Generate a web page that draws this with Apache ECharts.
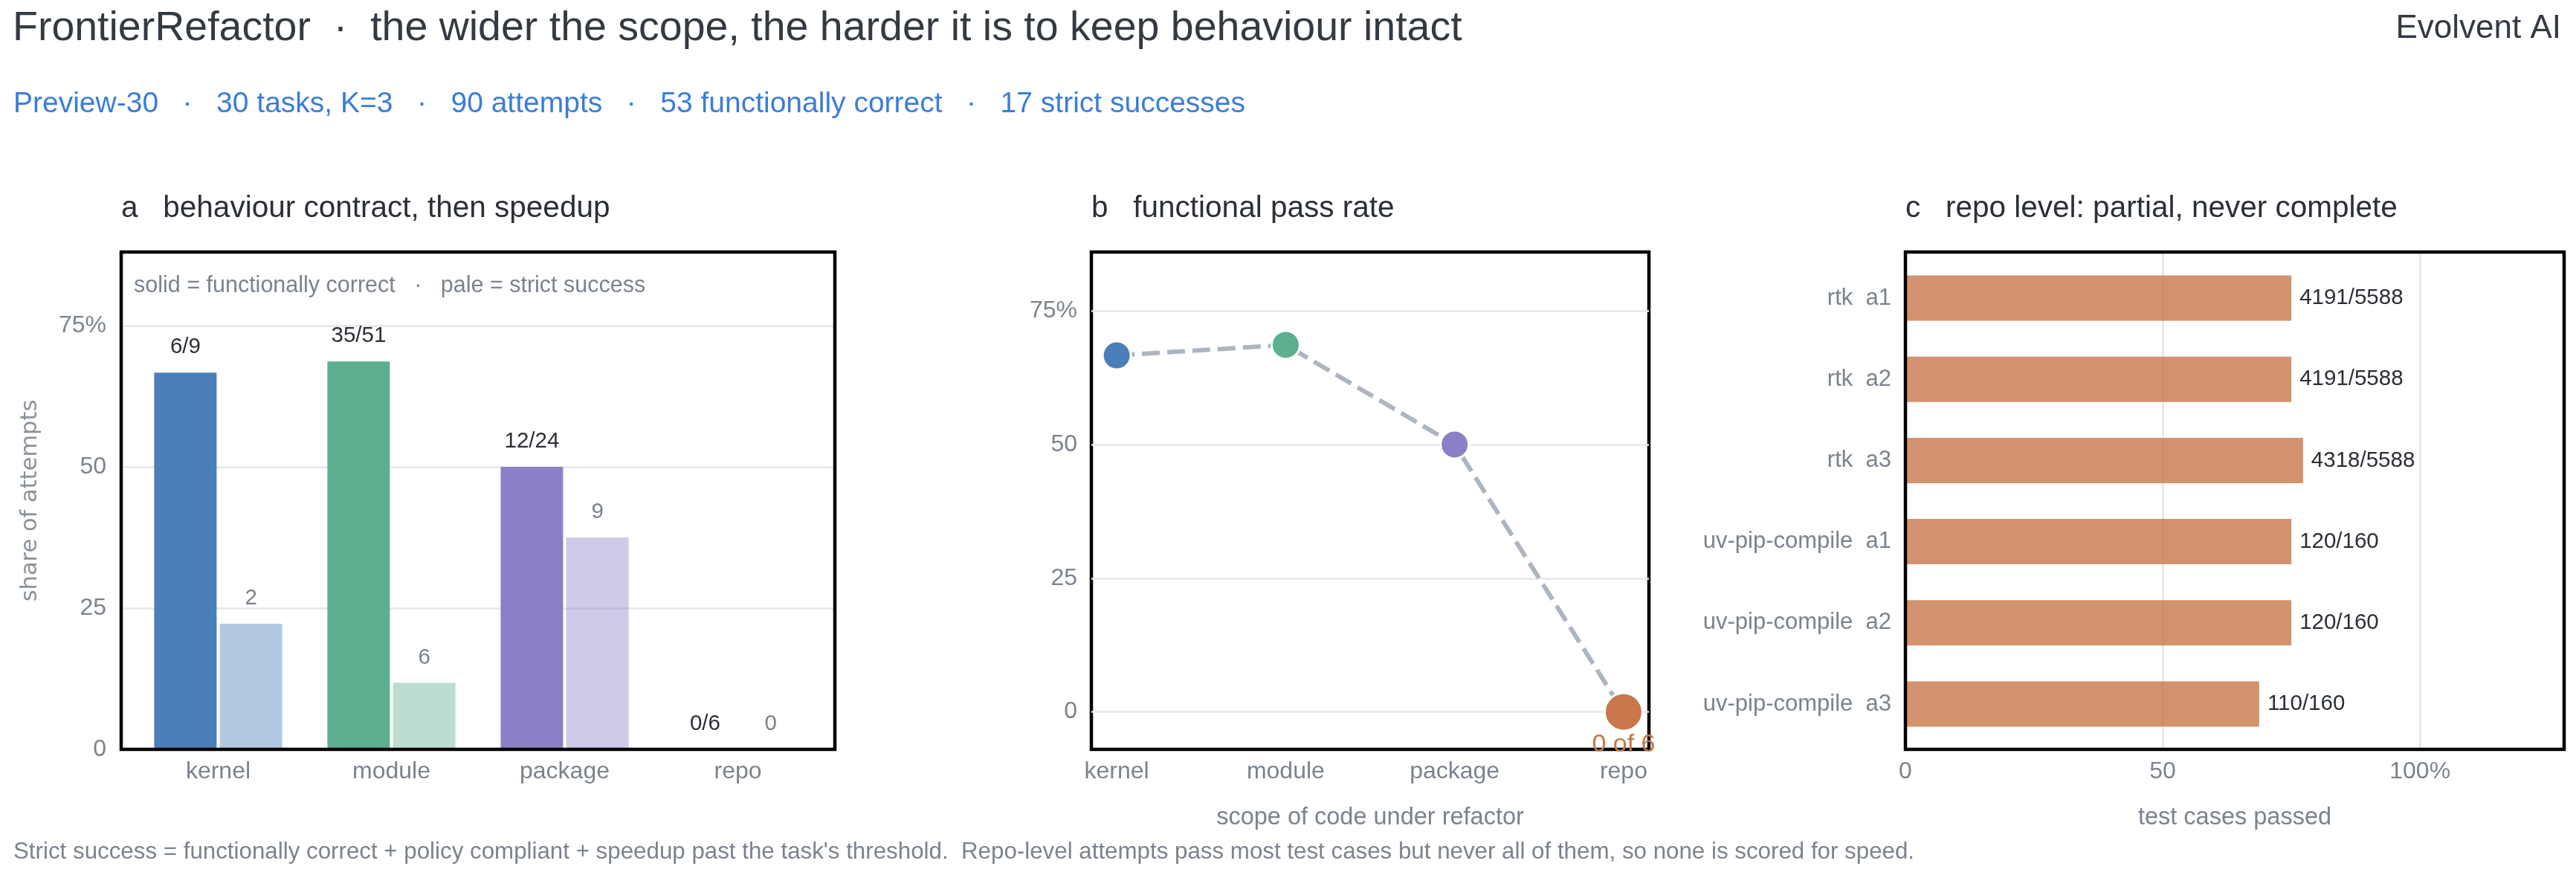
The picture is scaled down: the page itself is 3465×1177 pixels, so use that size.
<!DOCTYPE html>
<html><head><meta charset="utf-8">
<script src="https://cdn.jsdelivr.net/npm/echarts@6/dist/echarts.min.js"></script>
<style>html,body{margin:0;padding:0;background:#fff}#c{width:3465px;height:1177px}</style>
</head><body><div id="c"></div>
<script>
// ---- data ----
const scopes = ['kernel', 'module', 'package', 'repo'];
const functionalCorrect = [6, 35, 12, 0];
const attemptsPerScope = [9, 51, 24, 6];
const strictSuccess = [2, 6, 9, 0];
const scopeTicks = [0, 1, 2, 3];
const shareTicks = [0, 25, 50, 75];
const repoRuns = ['rtk  a1', 'rtk  a2', 'rtk  a3', 'uv-pip-compile  a1', 'uv-pip-compile  a2', 'uv-pip-compile  a3'];
const casesPassed = [4191, 4191, 4318, 120, 120, 110];
const casesTotal = [5588, 5588, 5588, 160, 160, 160];
const passTicks = [0, 50, 100];

// ---- style ----
const FONT = 'Liberation Sans, Arial, Helvetica, sans-serif';
const GRAY = '#7b838d';
const DARK = '#2b2f36';
const scopeColors = ['#4a7fba', '#5caf8f', '#8b80c6', '#c8784a'];
const paleAlpha = 0.42;
const gridLine = { show: true, lineStyle: { color: '#e4e7eb', width: 2.5 } };

function hexA(hex, a) {
  const n = parseInt(hex.slice(1), 16);
  return 'rgba(' + (n >> 16) + ',' + ((n >> 8) & 255) + ',' + (n & 255) + ',' + a + ')';
}
const share = (n, d) => 100 * n / d;

const chart = echarts.init(document.getElementById('c'), null, { renderer: 'canvas' });

const frameGrid = { show: true, borderColor: '#000', borderWidth: 4.5, backgroundColor: 'transparent', outerBoundsMode: 'none', containLabel: false };

function txt(text, x, y, size, color, align, family) {
  return {
    type: 'text', silent: true,
    style: {
      text: text, x: x, y: y, fill: color,
      fontSize: size, fontFamily: family || FONT,
      align: align || 'left', textAlign: align || 'left',
      verticalAlign: 'middle', textVerticalAlign: 'middle'
    }
  };
}

const option = {
  animation: false,
  backgroundColor: '#fff',
  textStyle: { fontFamily: FONT },
  graphic: [
    txt('FrontierRefactor  \u00b7  the wider the scope, the harder it is to keep behaviour intact', 17, 39, 55.5, '#343a42'),
    txt('Evolvent AI', 3445, 39, 44, '#343a42', 'right'),
    txt('Preview-30   \u00b7   30 tasks, K=3   \u00b7   90 attempts   \u00b7   53 functionally correct   \u00b7   17 strict successes', 18, 140, 39, '#3b7dd8'),
    txt('a   behaviour contract, then speedup', 163, 281, 40.5, DARK),
    txt('b   functional pass rate', 1468, 281, 40.5, DARK),
    txt('c   repo level: partial, never complete', 2563, 281, 40.5, DARK),
    txt('solid = functionally correct   \u00b7   pale = strict success', 180, 385, 30.5, GRAY),
    txt('Strict success = functionally correct + policy compliant + speedup past the task\'s threshold.  Repo-level attempts pass most test cases but never all of them, so none is scored for speed.', 18, 1146, 31.3, GRAY)
  ],
  grid: [
    Object.assign({ left: 163, top: 339, width: 960, height: 669, z: 5 }, frameGrid),
    Object.assign({ left: 1468, top: 339, width: 750, height: 669 }, frameGrid),
    Object.assign({ left: 2563, top: 339, width: 886, height: 669, z: 5 }, frameGrid),
    { left: 2563, top: 346.4, width: 886, height: 655.2, show: false, outerBoundsMode: 'none', containLabel: false }
  ],
  xAxis: [
    {
      gridIndex: 0, type: 'value', min: -0.56, max: 3.56,
      axisLine: { show: false, onZero: false },
      axisTick: { show: false, customValues: scopeTicks },
      splitLine: { show: false },
      axisLabel: { customValues: scopeTicks, formatter: v => scopes[Math.round(v)], margin: 14, fontSize: 32, color: GRAY, fontFamily: FONT }
    },
    {
      gridIndex: 1, type: 'value', min: -0.15, max: 3.15,
      axisLine: { show: false, onZero: false },
      axisTick: { show: false, customValues: scopeTicks },
      splitLine: { show: false },
      axisLabel: { customValues: scopeTicks, formatter: v => scopes[Math.round(v)], margin: 14, fontSize: 32, color: GRAY, fontFamily: FONT },
      name: 'scope of code under refactor', nameLocation: 'middle', nameGap: 76,
      nameTextStyle: { fontSize: 32.5, color: GRAY, fontFamily: FONT }
    },
    {
      gridIndex: 2, type: 'value', min: 0, max: 128,
      axisLine: { show: false, onZero: false },
      axisTick: { show: false, customValues: passTicks },
      splitLine: { show: true, lineStyle: { color: '#e3e4ea', width: 2.5 } },
      axisLabel: { customValues: passTicks, formatter: v => (v === 100 ? '100%' : String(v)), margin: 14, fontSize: 32, color: GRAY, fontFamily: FONT },
      name: 'test cases passed', nameLocation: 'middle', nameGap: 76,
      nameTextStyle: { fontSize: 32.5, color: GRAY, fontFamily: FONT }
    },
    { gridIndex: 3, type: 'value', min: 0, max: 128, show: false }
  ],
  yAxis: [
    {
      gridIndex: 0, type: 'value', min: 0, max: 88,
      axisLine: { show: false, onZero: false },
      axisTick: { show: false, customValues: shareTicks },
      splitLine: gridLine,
      axisLabel: { customValues: shareTicks, formatter: v => (v === 75 ? '75%' : String(v)), margin: 20, fontSize: 32, color: GRAY, fontFamily: FONT },
      name: 'share of attempts', nameLocation: 'middle', nameGap: 106, nameRotate: 90,
      nameTextStyle: { fontSize: 30.5, color: '#8a929b', fontFamily: 'DejaVu Sans' }
    },
    {
      gridIndex: 1, type: 'value', min: -7, max: 86,
      axisLine: { show: false, onZero: false },
      axisTick: { show: false, customValues: shareTicks },
      splitLine: gridLine,
      axisLabel: { customValues: shareTicks, formatter: v => (v === 75 ? '75%' : String(v)), margin: 19, fontSize: 32, color: GRAY, fontFamily: FONT }
    },
    { gridIndex: 2, type: 'value', min: 0, max: 1, show: false },
    {
      gridIndex: 3, type: 'category', data: repoRuns, inverse: true,
      axisLine: { show: false, onZero: false }, axisTick: { show: false }, splitLine: { show: false },
      axisLabel: { margin: 19, fontSize: 31, color: GRAY, fontFamily: FONT }
    }
  ],
  series: [
    {
      name: 'functionally correct', type: 'bar', xAxisIndex: 0, yAxisIndex: 0,
      barWidth: 84, barGap: '5%',
      data: scopes.map((s, i) => ({ value: [i, share(functionalCorrect[i], attemptsPerScope[i])], itemStyle: { color: scopeColors[i] } })),
      label: {
        show: true, position: 'top', distance: 19, fontSize: 29.5, color: DARK, fontFamily: FONT,
        formatter: p => functionalCorrect[p.dataIndex] + '/' + attemptsPerScope[p.dataIndex]
      },
      emphasis: { disabled: true }
    },
    {
      name: 'strict success', type: 'bar', xAxisIndex: 0, yAxisIndex: 0,
      barWidth: 84, barGap: '5%',
      data: scopes.map((s, i) => ({ value: [i, share(strictSuccess[i], attemptsPerScope[i])], itemStyle: { color: hexA(scopeColors[i], paleAlpha) } })),
      label: {
        show: true, position: 'top', distance: 19, fontSize: 29.5, color: GRAY, fontFamily: FONT,
        formatter: p => String(strictSuccess[p.dataIndex])
      },
      emphasis: { disabled: true }
    },
    {
      name: 'functional pass rate', type: 'line', xAxisIndex: 1, yAxisIndex: 1, clip: false,
      symbol: 'circle',
      lineStyle: { color: '#adb5bf', width: 6, type: [24, 10] },
      itemStyle: { borderColor: '#fff', borderWidth: 3 },
      data: scopes.map((s, i) => {
        const last = i === scopes.length - 1;
        const item = {
          value: [i, share(functionalCorrect[i], attemptsPerScope[i])],
          symbolSize: last ? 51 : 38,
          itemStyle: { color: scopeColors[i], borderColor: '#fff', borderWidth: 3 }
        };
        if (last) {
          item.label = {
            show: true, position: 'bottom', distance: 0, fontSize: 34, color: scopeColors[i], fontFamily: FONT,
            formatter: functionalCorrect[i] + ' of ' + attemptsPerScope[i]
          };
        }
        return item;
      }),
      label: { show: false },
      emphasis: { disabled: true },
      z: 3
    },
    {
      name: 'test cases passed', type: 'bar', xAxisIndex: 3, yAxisIndex: 3,
      barWidth: 61,
      itemStyle: { color: 'rgba(200,120,74,0.8)' },
      data: casesPassed.map((v, i) => share(v, casesTotal[i])),
      label: {
        show: true, position: 'right', distance: 11, fontSize: 29.5, color: DARK, fontFamily: FONT,
        formatter: p => casesPassed[p.dataIndex] + '/' + casesTotal[p.dataIndex]
      },
      emphasis: { disabled: true }
    }
  ]
};
chart.setOption(option);
</script>
</body></html>
